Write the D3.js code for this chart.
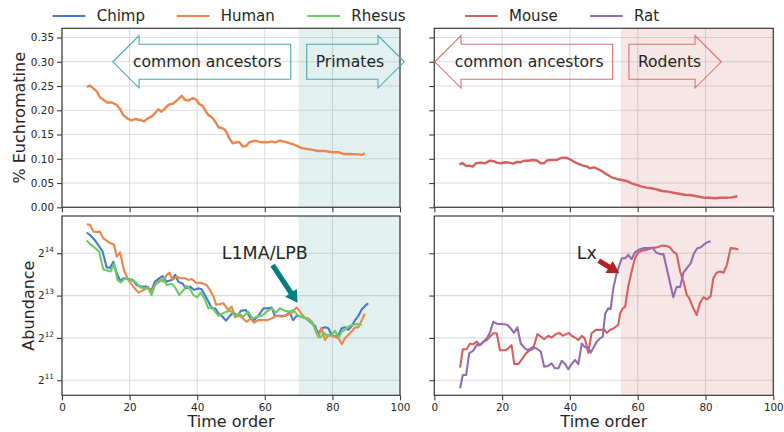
<!DOCTYPE html>
<html>
<head>
<meta charset="utf-8">
<script src="https://cdn.jsdelivr.net/npm/d3@7"></script>
<style>
  html, body { margin: 0; padding: 0; background: #fff; }
  svg { display: block; font-family: "DejaVu Sans", sans-serif; }
</style>
</head>
<body>
<svg id="chart" width="784" height="432"></svg>
<script>
// ---- Euchromatin fraction along time order ----
const humanEuchroT = [7.3, 8.3, 10.3, 11.2, 13.4, 14.7, 16.2, 17.2, 18.1, 19.6, 20.6, 21.6, 23.1, 24.3, 25.5, 26.5, 27.5, 28.5, 29.5, 30.5, 31.5, 32.9, 34.2, 35.4, 36.4, 37.4, 38.7, 39.8, 40.6, 41.6, 42.3, 43.3, 44.3, 45.3, 46.3, 47.5, 48.5, 49.5, 50.5, 51.5, 52.5, 53.5, 54.4, 55.4, 57.1, 59.1, 61, 62, 63, 64.5, 66.5, 68.4, 69.7, 70.9, 72.9, 73.9, 75.8, 77.8, 79.8, 81.8, 83.2, 85.2, 87.7, 88.7, 89.6];
const humanEuchro = [0.248, 0.251, 0.239, 0.227, 0.216, 0.216, 0.211, 0.202, 0.190, 0.182, 0.179, 0.182, 0.180, 0.177, 0.184, 0.187, 0.194, 0.202, 0.197, 0.204, 0.211, 0.214, 0.2215, 0.2297, 0.2215, 0.220, 0.225, 0.2215, 0.213, 0.209, 0.201, 0.190, 0.186, 0.177, 0.165, 0.163, 0.158, 0.142, 0.132, 0.134, 0.134, 0.125, 0.126, 0.134, 0.1375, 0.134, 0.134, 0.136, 0.134, 0.1375, 0.134, 0.130, 0.126, 0.122, 0.120, 0.119, 0.116, 0.116, 0.1135, 0.1135, 0.110, 0.110, 0.109, 0.108, 0.111];

const mouseEuchroT = [7.4, 8.4, 9.3, 10.3, 11.3, 12.3, 13.5, 15, 16.4, 17.4, 18.4, 19.6, 20.9, 22.1, 23.3, 24.3, 25.5, 26.5, 27.7, 29.2, 30.4, 31.4, 32.4, 33.3, 34.6, 36.1, 37.1, 38.1, 39.0, 40, 41.2, 42.5, 43.9, 45.1, 45.9, 47.1, 48.4, 49.7, 50.8, 52.3, 53.8, 55.3, 56.7, 58.2, 59.7, 61.2, 62.6, 64.1, 65.6, 67.1, 69, 70.5, 72.5, 73.9, 75.4, 77.4, 79.4, 81.3, 82.8, 84.3, 85.8, 87.7, 89.4];
const mouseEuchro = [0.0887, 0.0908, 0.0852, 0.0859, 0.0838, 0.0908, 0.092, 0.0908, 0.0962, 0.095, 0.092, 0.0908, 0.0929, 0.092, 0.090, 0.0935, 0.093, 0.096, 0.096, 0.0976, 0.096, 0.0908, 0.0908, 0.097, 0.0976, 0.0976, 0.101, 0.1025, 0.102, 0.099, 0.094, 0.0894, 0.0859, 0.0838, 0.0805, 0.0824, 0.0784, 0.0735, 0.0681, 0.0619, 0.0584, 0.0563, 0.0543, 0.0495, 0.046, 0.0425, 0.0405, 0.0392, 0.0371, 0.0336, 0.0322, 0.0301, 0.0274, 0.026, 0.0254, 0.0227, 0.0198, 0.0198, 0.0186, 0.0198, 0.0198, 0.0205, 0.0227];

// ---- L1MA/LPB abundance in primates ----
const chimpAbT = [7.3, 8.3, 9.8, 10.7, 12.0, 13.2, 14.2, 15.2, 16.2, 17.2, 18.3, 19.6, 20.9, 22.1, 23.6, 25, 26.5, 27.5, 28.8, 29.8, 31, 32.4, 33.5, 34.4, 35.7, 36.7, 37.9, 39.1, 40.3, 41.3, 42.3, 43.3, 44.3, 45.3, 46.3, 47.5, 48.5, 49.7, 50.7, 51.9, 52.9, 54.4, 55.6, 56.8, 58.1, 59.6, 61, 62, 63, 64.5, 66, 67.3, 68.4, 69.4, 70.9, 72.2, 73.4, 74.9, 75.8, 76.8, 77.8, 78.8, 79.8, 80.8, 81.8, 82.8, 83.7, 84.7, 85.7, 86.7, 87.7, 88.7, 89.6, 90.6];
const chimpAb = [23010, 22080, 20170, 18820, 16850, 13040, 12850, 14260, 11830, 10440, 10890, 10740, 10590, 9740, 9480, 9480, 8970, 10300, 10890, 11270, 10300, 10590, 11510, 10300, 9950, 9220, 9480, 8970, 9220, 9090, 8250, 7440, 6650, 6650, 6120, 5790, 5440, 5880, 6210, 5880, 6380, 6470, 5750, 5480, 5880, 6650, 6650, 6750, 5880, 5880, 5880, 6210, 5480, 5880, 5790, 5630, 5330, 4970, 4360, 4800, 4870, 4800, 4300, 4180, 4300, 4800, 4870, 4670, 4970, 5480, 5880, 6560, 6890, 7230];

const humanAbT = [7.3, 8.3, 9.3, 10.3, 11.2, 12.2, 13.2, 14.2, 15.4, 16.2, 17.2, 18.3, 19.6, 21.1, 22.6, 24.1, 25.5, 26.5, 27.5, 29.0, 30, 31, 31.8, 32.7, 33.9, 34.9, 36.4, 37.4, 38.4, 39.8, 40.8, 41.8, 42.8, 43.8, 44.8, 45.6, 46.7, 47.7, 49.2, 50.2, 51.2, 52.5, 53.6, 54.6, 55.8, 56.8, 58.1, 59.6, 60.6, 62, 63.5, 65, 66.5, 67.9, 69.4, 70.4, 71.6, 72.9, 73.9, 74.9, 75.8, 76.8, 77.8, 78.8, 79.8, 80.8, 81.8, 82.8, 83.7, 84.7, 85.7, 86.7, 87.7, 88.7, 89.6];
const humanAb = [26360, 26070, 23340, 23170, 23340, 20960, 20170, 19350, 18820, 15500, 16610, 12500, 10590, 9480, 8600, 8970, 9410, 8720, 9740, 10590, 10300, 11510, 11910, 10590, 11190, 10890, 10890, 10590, 10740, 10020, 10160, 9950, 9740, 8970, 8080, 7040, 7130, 7230, 6470, 6840, 5750, 5880, 5630, 5330, 5630, 5260, 5480, 5480, 5480, 5630, 5880, 5790, 5960, 6120, 6750, 6300, 5750, 5630, 5330, 4800, 4180, 4800, 3960, 4300, 4240, 4180, 4070, 3690, 4070, 4300, 4550, 4870, 4870, 5480, 6080];

const rhesusAbT = [7.3, 8.3, 9.8, 11.0, 12.2, 13.4, 14.4, 15.4, 16.4, 17.4, 18.6, 20.1, 21.6, 23.1, 24.6, 25.5, 26.5, 27.5, 28.8, 30, 31, 32.4, 33.4, 34.7, 35.9, 36.9, 37.9, 38.9, 40.0, 41.0, 42.0, 43.3, 44.3, 45.3, 46.3, 47.5, 48.7, 49.9, 51.2, 52.5, 53.6, 55.1, 56.4, 57.6, 59.1, 60.6, 62.0, 63.3, 64.5, 66, 67.3, 68.4, 69.9, 71.4, 72.9, 74.2, 75.3, 76.3, 77.5, 78.8, 79.8, 80.8, 81.8, 82.8, 83.7, 84.7, 86.2, 87.2, 88.7];
const rhesusAb = [20170, 19090, 17810, 16850, 12590, 12330, 12160, 13780, 10590, 10160, 10890, 10590, 10300, 9410, 9220, 9220, 8250, 9740, 10300, 10890, 9740, 9950, 9410, 8250, 8970, 9610, 9090, 8250, 7970, 8600, 7970, 6650, 6840, 6300, 5880, 6120, 6300, 6380, 5880, 6080, 5790, 6300, 5630, 5790, 5880, 6300, 6650, 6210, 6650, 6380, 6300, 6470, 5880, 5750, 5480, 5220, 4420, 4125, 4420, 4240, 4300, 4610, 4125, 4550, 4670, 4940, 5080, 5150, 5080];

// ---- Lx abundance in rodents ----
const mouseAbT = [7.6, 8.4, 9.5, 10.5, 11.5, 12.5, 13.5, 14.5, 15.5, 16.4, 17.4, 18.4, 19.4, 20.9, 21.8, 22.8, 23.6, 24.8, 25.8, 27.1, 28.2, 29.2, 30.4, 31.4, 32.4, 33.6, 34.6, 35.9, 36.9, 37.9, 38.9, 39.8, 40.5, 41.5, 42.5, 43.5, 44.4, 45.4, 46.4, 47.7, 48.9, 50.1, 50.9, 51.8, 53.0, 54.3, 54.8, 55.6, 56.3, 57.2, 58.2, 59.2, 60.2, 61.2, 62.6, 64.1, 65.8, 67.1, 68.5, 69.5, 70.5, 71.5, 72.5, 73.5, 74.5, 75.2, 76.2, 77.4, 78.4, 79.4, 80.4, 81.5, 82.3, 83.3, 84.3, 85.3, 86.3, 87.4, 88.7, 89.7];
const mouseAb = [2520, 3400, 3400, 3720, 3690, 3850, 3640, 3850, 3960, 4180, 4420, 4420, 3350, 3350, 3440, 3640, 2670, 2670, 2880, 3190, 3350, 3440, 4360, 4180, 4010, 4240, 4125, 4360, 4450, 4240, 4360, 4450, 4240, 4125, 3960, 4240, 4070, 3210, 4420, 4670, 4670, 4700, 4450, 4670, 4800, 5080, 6120, 6650, 6840, 9480, 12160, 15080, 16610, 17080, 17320, 17810, 18060, 18560, 18440, 18060, 16850, 16160, 12160, 10300, 8250, 7860, 6840, 5960, 7280, 7970, 7700, 8080, 10890, 11910, 12160, 11910, 13500, 17810, 17680, 17440];

const ratAbT = [7.6, 8.4, 9.4, 10.3, 11.5, 12.5, 13.5, 14.5, 15.5, 16.4, 17.4, 18.6, 19.9, 21.5, 22.5, 23.5, 24.5, 25.5, 26.8, 27.7, 29.0, 30.2, 31.4, 32.4, 33.6, 34.6, 35.6, 36.6, 37.6, 38.6, 39.5, 40.5, 41.5, 42.5, 43.5, 44.4, 45.4, 46.1, 47.1, 47.9, 48.9, 49.7, 50.4, 51.3, 52.0, 52.8, 53.8, 54.6, 55.3, 56.3, 57.2, 58.2, 59.2, 60.5, 61.7, 63.1, 64.4, 65.4, 66.6, 67.6, 69.0, 70.5, 71.5, 72.5, 73.5, 74.5, 75.6, 76.6, 77.6, 78.6, 79.6, 80.5, 81.5];
const ratAb = [1795, 2230, 2230, 3190, 3330, 3640, 3640, 3850, 4070, 4450, 5330, 5150, 5150, 5080, 4800, 4450, 4870, 3740, 3440, 3350, 3520, 3440, 3280, 2560, 2590, 2700, 2490, 2490, 2820, 2670, 2450, 2670, 2860, 2670, 3740, 3520, 3520, 3210, 3540, 3850, 4070, 4180, 6080, 6650, 6560, 9220, 11830, 13500, 15080, 15080, 15940, 14870, 16610, 17440, 17810, 17810, 17930, 16610, 16160, 16160, 11510, 7970, 9480, 9410, 11910, 12850, 13880, 16384, 17810, 18060, 18950, 19620, 19900];

// ---- axis ticks ----
const timeTicks = [0, 20, 40, 60, 80, 100];
const euchroTicks = [0, 0.05, 0.10, 0.15, 0.20, 0.25, 0.30, 0.35];
const abundanceExps = [11, 12, 13, 14];
const abundanceTicks = abundanceExps.map(e => Math.pow(2, e));

// ---- styling ----
const colors = { Chimp: "#4878D0", Human: "#EE854A", Rhesus: "#6ACC64", Mouse: "#D65F5F", Rat: "#956CB4" };
const textColor = "#262626";
const gridColor = "#dcdcdc";
const spineColor = "#3a3a3a";

const svg = d3.select("#chart");

const xLeft = d3.scaleLinear().domain([0, 100]).range([62, 400]);
const xRight = d3.scaleLinear().domain([0, 100]).range([434.3, 773.3]);
const yTop = d3.scaleLinear().domain([0, 0.369]).range([207.3, 28.3]);
const yBot = d3.scaleLog().base(2).domain([1601, 30150]).range([395.3, 216]);

function zip(ts, vs) { return ts.map((t, i) => [t, vs[i]]); }

function panel(x, y, opts) {
  const g = svg.append("g");
  const [x0, x1] = x.range();
  const [y0, y1] = y.range(); // y0 bottom, y1 top
  g.append("rect").attr("x", x0).attr("y", y1).attr("width", x1 - x0).attr("height", y0 - y1).attr("fill", "#fff");
  // grid
  const grid = g.append("g");
  timeTicks.forEach(t => grid.append("line").attr("x1", x(t)).attr("x2", x(t)).attr("y1", y1).attr("y2", y0)
    .attr("stroke", gridColor).attr("stroke-width", 1.1));
  opts.yTicks.forEach(v => grid.append("line").attr("x1", x0).attr("x2", x1).attr("y1", y(v)).attr("y2", y(v))
    .attr("stroke", gridColor).attr("stroke-width", 1.1));
  // highlighted time span
  g.append("rect").attr("x", x(opts.span[0])).attr("y", y1).attr("width", x(opts.span[1]) - x(opts.span[0]))
    .attr("height", y0 - y1).attr("fill", opts.spanColor).attr("fill-opacity", opts.spanOpacity);
  // series
  const line = d3.line().x(d => x(d[0])).y(d => y(d[1]));
  opts.series.forEach(s => {
    g.append("path").datum(zip(s.t, s.v)).attr("d", line).attr("fill", "none")
      .attr("stroke", s.color).attr("stroke-width", s.width || 2.1).attr("stroke-linejoin", "round");
  });
  // axes
  const ax = g.append("g").attr("transform", `translate(0,${y0})`)
    .call(d3.axisBottom(x).tickValues(timeTicks).tickSize(5).tickPadding(3).tickFormat(opts.xLabels ? d3.format("d") : () => ""));
  const ay = g.append("g").attr("transform", `translate(${x0},0)`)
    .call(d3.axisLeft(y).tickValues(opts.yTicks).tickSize(5).tickPadding(3).tickFormat(() => ""));
  [ax, ay].forEach(a => {
    a.select(".domain").remove();
    a.selectAll(".tick line").attr("stroke", spineColor).attr("stroke-width", 1.1);
    a.selectAll(".tick text").attr("fill", textColor).attr("font-size", 10.4).attr("font-family", "DejaVu Sans");
  });
  if (opts.yLabels) opts.yLabels(ay);
  // frame
  g.append("rect").attr("x", x0).attr("y", y1).attr("width", x1 - x0).attr("height", y0 - y1)
    .attr("fill", "none").attr("stroke", spineColor).attr("stroke-width", 1.2);
  return g;
}

function euchroLabels(ay) {
  ay.selectAll(".tick text").text(d => d3.format(".2f")(d));
}
function abundanceLabels(ay) {
  ay.selectAll(".tick text").each(function (d, i) {
    const t = d3.select(this).text("");
    t.append("tspan").text("2");
    t.append("tspan").attr("font-size", 7.3).attr("dy", -5).text(abundanceExps[i]);
  });
}

// top-left: primates euchromatin
const pTL = panel(xLeft, yTop, {
  yTicks: euchroTicks, span: [70, 100], spanColor: "#6fb5b5", spanOpacity: 0.2, xLabels: false,
  yLabels: euchroLabels,
  series: [{ t: humanEuchroT, v: humanEuchro, color: colors.Human, width: 2.4 }]
});
// bottom-left: primates abundance
const pBL = panel(xLeft, yBot, {
  yTicks: abundanceTicks, span: [70, 100], spanColor: "#6fb5b5", spanOpacity: 0.2, xLabels: true,
  yLabels: abundanceLabels,
  series: [
    { t: chimpAbT, v: chimpAb, color: colors.Chimp },
    { t: humanAbT, v: humanAb, color: colors.Human },
    { t: rhesusAbT, v: rhesusAb, color: colors.Rhesus }
  ]
});
// top-right: rodents euchromatin
const pTR = panel(xRight, yTop, {
  yTicks: euchroTicks, span: [55, 100], spanColor: "#c75050", spanOpacity: 0.14, xLabels: false,
  series: [{ t: mouseEuchroT, v: mouseEuchro, color: colors.Mouse, width: 2.4 }]
});
// bottom-right: rodents abundance
const pBR = panel(xRight, yBot, {
  yTicks: abundanceTicks, span: [55, 100], spanColor: "#c75050", spanOpacity: 0.14, xLabels: true,
  series: [
    { t: mouseAbT, v: mouseAb, color: colors.Mouse },
    { t: ratAbT, v: ratAb, color: colors.Rat }
  ]
});

// axis titles
function label(txt, x, y, rot) {
  svg.append("text").attr("transform", `translate(${x},${y})` + (rot ? " rotate(-90)" : ""))
    .attr("text-anchor", "middle").attr("font-size", 16).attr("fill", textColor).text(txt);
}
label("% Euchromatine", 25, 117.8, true);
label("Abundance", 33.5, 305.6, true);
label("Time order", 231, 427, false);
label("Time order", 603.8, 427, false);

// legends
function legend(items, positions) {
  items.forEach((name, i) => {
    const x = positions[i];
    svg.append("line").attr("x1", x).attr("x2", x + 32.7).attr("y1", 16).attr("y2", 16)
      .attr("stroke", colors[name]).attr("stroke-width", 2.2);
    svg.append("text").attr("x", x + 44).attr("y", 21.3).attr("font-size", 15).attr("fill", textColor).text(name);
  });
}
legend(["Chimp", "Human", "Rhesus"], [52.7, 176.7, 307.3]);
legend(["Mouse", "Rat"], [465, 590]);

// block arrows with text (direction labels)
function blockArrow(g, cx, cy, txt, dir, stroke) {
  const grp = g.append("g");
  const t = grp.append("text").attr("x", cx).attr("y", cy).attr("text-anchor", "middle")
    .attr("dominant-baseline", "central").attr("font-size", 15.6).attr("fill", textColor).text(txt);
  const bb = t.node().getBBox();
  const pad = 9, dx = 17.5, dxx = dx / 2;
  let x0 = bb.x - pad, x1 = bb.x + bb.width + pad;
  const y0 = cy - dx, y1 = cy + dx;
  let pts;
  if (dir === "left") {
    x0 += pad / 1.4;
    pts = [[x0 + dxx, y0], [x1, y0], [x1, y1], [x0 + dxx, y1], [x0 + dxx, y1 + dxx], [x0 - dx, cy], [x0 + dxx, y0 - dxx], [x0 + dxx, y0]];
  } else {
    x1 -= pad / 1.4;
    pts = [[x0, y0], [x1 - dxx, y0], [x1 - dxx, y0 - dxx], [x1 + dx, cy], [x1 - dxx, y1 + dxx], [x1 - dxx, y1], [x0, y1]];
  }
  grp.insert("polygon", "text").attr("points", pts.map(p => p.join(",")).join(" "))
    .attr("fill", "none").attr("stroke", stroke).attr("stroke-width", 1.1);
}
blockArrow(pTL, xLeft(43), yTop(0.30), "common ancestors", "left", "#4aa8a8");
blockArrow(pTL, xLeft(85.2), yTop(0.30), "Primates", "right", "#4aa8a8");
blockArrow(pTR, xRight(28), yTop(0.30), "common ancestors", "left", "#d97070");
blockArrow(pTR, xRight(69.4), yTop(0.30), "Rodents", "right", "#d97070");

// pointer arrows for element families
function pointer(g, label, textPos, tail, tip, color) {
  g.append("text").attr("x", textPos[0]).attr("y", textPos[1]).attr("text-anchor", "middle")
    .attr("dominant-baseline", "central").attr("font-size", 17.5).attr("fill", textColor).text(label);
  const ang = Math.atan2(tip[1] - tail[1], tip[0] - tail[0]);
  const len = Math.hypot(tip[0] - tail[0], tip[1] - tail[1]);
  const hl = 12, hw = 7, sw = 2.6;
  const local = [[0, -sw], [len - hl, -sw], [len - hl, -hw], [len, 0], [len - hl, hw], [len - hl, sw], [0, sw]];
  const pts = local.map(([u, v]) => [tail[0] + u * Math.cos(ang) - v * Math.sin(ang), tail[1] + u * Math.sin(ang) + v * Math.cos(ang)]);
  g.append("polygon").attr("points", pts.map(p => p.join(",")).join(" ")).attr("fill", color);
}
pointer(pBL, "L1MA/LPB", [xLeft(60), yBot(16384)], [xLeft(62.3), yBot(13500)], [xLeft(69.7), yBot(7280)], "#008080");
pointer(pBR, "Lx", [xRight(45), yBot(16384)], [xRight(48.5), yBot(14520)], [xRight(54.6), yBot(11830)], "#b22222");
</script>
</body>
</html>
